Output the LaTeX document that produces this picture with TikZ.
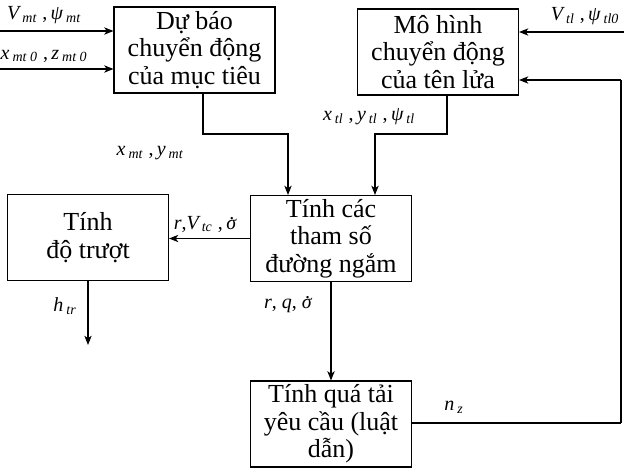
\documentclass[tikz,border=0pt]{standalone}
\usepackage{fontspec}
\setmainfont{Liberation Serif}
\usetikzlibrary{arrows.meta}

% italic label text with small, widely set subscripts
\newcommand{\lab}[1]{{\itshape #1}}
\newcommand{\sbs}[1]{\kern0.15em\textsubscript{\itshape #1}\kern0.1em}
% sigma with a dot above it (rate of the sight-line angle)
\newcommand{\sdot}{{\ooalign{σ\cr\hidewidth\kern0.12em\raisebox{0.5em}{.}\hidewidth\cr}}}

\begin{document}
\begin{tikzpicture}[x=0.75pt,y=-0.75pt,
  block/.style={draw, line width=0.8pt, minimum width=120.75pt, minimum height=64.5pt,
    align=center, inner sep=0pt, font=\fontsize{19.5}{20.5}\selectfont},
  arr/.style={line width=0.8pt, -{Stealth[length=7pt,width=5.5pt,inset=2pt]}},
  lbl/.style={inner sep=0pt, font=\fontsize{15}{17}\selectfont}]
\useasboundingbox (0,0) rectangle (624,469);

% blocks
\node[block] (A) at (194.5,50) {Dự báo\\chuyển động\\của mục tiêu};
\node[block] (B) at (438,52) {Mô hình\\chuyển động\\của tên lửa};
\node[block] (C) at (331,238.5) {Tính các\\tham số\\đường ngắm};
\node[block] (D) at (88,237.5) {Tính\\độ trượt};
\node[block] (E) at (331,424) {Tính quá tải\\yêu cầu (luật\\dẫn)};

% inputs of the target prediction block
\coordinate (inA1) at (0,31);
\coordinate (inA2) at (0,69);
\draw[arr] (inA1) -- (inA1 -| A.west);
\draw[arr] (inA2) -- (inA2 -| A.west);

% inputs of the missile model
\coordinate (inB) at (624,32);
\draw[arr] (inB) -- (inB -| B.east);

% feedback of the required load factor
\coordinate (fb1) at (621,423);
\coordinate (fb2) at (621,80);
\draw[line width=1.5pt] (E.east |- fb1) -- (fb1);
\draw[line width=1.1pt] (fb1) -- (fb2);
\draw[arr] (fb2) -- (fb2 -| B.east);

% target and missile states into the sight-line block
\coordinate (a1) at (203,134);
\coordinate (a2) at (288,134);
\draw[arr] (A.south -| a1) -- (a1) -- (a2) -- (a2 |- C.north);
\coordinate (b1) at (447,134);
\coordinate (b2) at (375,134);
\draw[arr] (B.south -| b1) -- (b1) -- (b2) -- (b2 |- C.north);

% sight-line parameters onward
\draw[arr] (C.west) -- (C.west -| D.east);
\draw[arr] (C.south) -- (E.north);
\coordinate (hout) at (88,345);
\draw[arr] (D.south) -- (hout);

% labels
\node[lbl] (lA1) at (45,15) {\lab{V}\sbs{mt}\,,\,\lab{ψ}\sbs{mt}};
\node[lbl] (lA2) at (45,56) {\lab{x}\sbs{mt 0}\,,\,\lab{z}\sbs{mt 0}};
\node[lbl] (lB) at (586,16) {\lab{V}\sbs{tl}\,,\,\lab{ψ}\sbs{tl0}};
\node[lbl] (lBC) at (370,117) {\lab{x}\sbs{tl}\,,\,\lab{y}\sbs{tl}\,,\,\lab{ψ}\sbs{tl}};
\node[lbl] (lAC) at (151,153) {\lab{x}\sbs{mt}\,,\,\lab{y}\sbs{mt}};
\node[lbl] (lCD) at (205,224) {\lab{r},\lab{V}\sbs{tc}\,,\,\lab{\sdot}};
\node[lbl] (lD) at (66,306) {\lab{h}\sbs{tr}};
\node[lbl] (lCE) at (288,305) {\lab{r}, \lab{q}, \lab{\sdot}};
\node[lbl] (lE) at (455,407) {\lab{n}\sbs{z}};
\end{tikzpicture}
\end{document}
